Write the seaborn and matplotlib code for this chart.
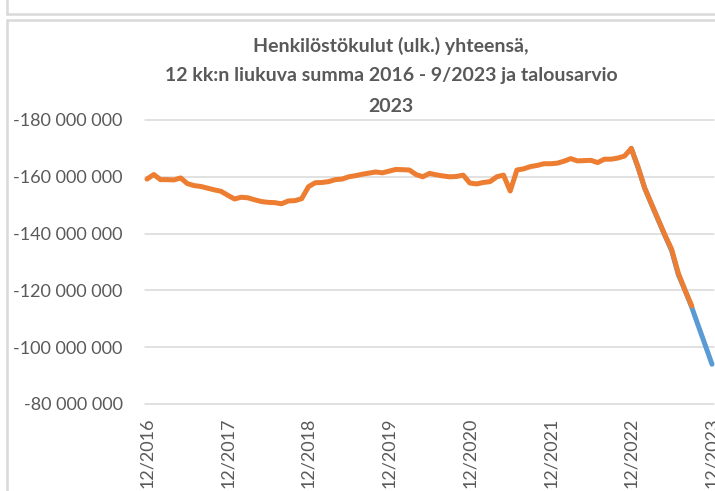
import numpy as np
import pandas as pd
import matplotlib
matplotlib.use('Agg')
import matplotlib.pyplot as plt
import seaborn as sns
from matplotlib.lines import Line2D

# 12 kk liukuva summa, milj. euroa (miinusmerkkinen kulu), kuukaudet 12/2016 - 9/2023
actual_m = [159.2, 160.8, 159.0, 159.0, 158.9, 159.6, 157.6, 156.9, 156.6, 156.0,
            155.4, 154.9, 153.5, 152.2, 152.8, 152.6, 151.9, 151.3, 151.0, 150.9,
            150.5, 151.5, 151.6, 152.3, 156.5, 157.9, 158.0, 158.3, 159.0, 159.2,
            160.0, 160.4, 160.9, 161.3, 161.7, 161.4, 162.0, 162.6, 162.5, 162.4,
            160.8, 160.0, 161.2, 160.7, 160.3, 160.0, 160.1, 160.6, 157.8, 157.5,
            158.0, 158.3, 160.0, 160.6, 155.0, 162.4, 162.8, 163.6, 164.0, 164.6,
            164.6, 164.8, 165.5, 166.4, 165.6, 165.7, 165.8, 165.0, 166.2, 166.2,
            166.6, 167.3, 170.0, 163.5, 156.0, 150.5, 145.0, 139.5, 134.5, 126.0,
            120.0, 114.5]

# talousarvio 2023, 12/2022 - 12/2023
budget_m = [170.0, 163.3, 156.0, 150.3, 144.8, 139.3, 134.0, 125.5, 120.0, 114.0,
            107.3, 100.7, 94.0]
budget_start = 72  # 12/2022

tick_labels = ['12/2016', '12/2017', '12/2018', '12/2019', '12/2020',
               '12/2021', '12/2022', '12/2023']
y_ticks = [-180e6, -160e6, -140e6, -120e6, -100e6, -80e6]

df_actual = pd.DataFrame({'kk': range(len(actual_m)),
                          'eur': [-v * 1e6 for v in actual_m]})
df_budget = pd.DataFrame({'kk': range(budget_start, budget_start + len(budget_m)),
                          'eur': [-v * 1e6 for v in budget_m]})

sns.set_theme(style='white')
plt.rcParams['font.family'] = ['Lato', 'DejaVu Sans']

fig = plt.figure(figsize=(7.15, 4.91), dpi=100)
ax = fig.add_axes([145 / 715, 1 - 404 / 491, 569 / 715, 284 / 491])

sns.lineplot(data=df_budget, x='kk', y='eur', color='#5B9BD5', linewidth=3.6,
             solid_capstyle='round', ax=ax)
sns.lineplot(data=df_actual, x='kk', y='eur', color='#ED7D31', linewidth=3.6,
             solid_capstyle='round', ax=ax)
for ln in ax.get_lines():
    ln.set_clip_on(False)

ax.set_xlim(-0.3, 84.3)
ax.set_ylim(-80e6, -180e6)
ax.set_xticks(range(0, 85, 12))
ax.set_xticklabels(tick_labels, rotation=90)
ax.set_yticks(y_ticks)
ax.set_yticklabels([f'{int(v):,}'.replace(',', ' ') for v in y_ticks])
ax.set_xlabel('')
ax.set_ylabel('')

ax.tick_params(length=0, labelsize=13, colors='#595959')
ax.tick_params(axis='y', pad=16)
ax.tick_params(axis='x', pad=10)
ax.yaxis.grid(True, color='#d9d9d9', linewidth=1.1)
ax.xaxis.grid(False)
for gl in ax.get_ygridlines():
    gl.set_clip_on(False)
ax.set_axisbelow(True)
for s in ax.spines.values():
    s.set_visible(False)

title_lines = ['Henkilöstökulut (ulk.) yhteensä,',
               '12 kk:n liukuva summa 2016 - 9/2023 ja talousarvio',
               '2023']
for i, t in enumerate(title_lines):
    fig.text(391 / 715, 1 - (46 + 30 * i) / 491, t, ha='center', va='center',
             fontsize=14, fontweight='bold', color='#595959')

# reunaviivat (edellinen kaavio ylhäällä + tämän kaavion kehys)
frame = '#d9d9d9'
fig.add_artist(Line2D([7 / 715, 1], [1 - 14 / 491] * 2, color=frame, lw=1.8))
fig.add_artist(Line2D([7 / 715] * 2, [1, 1 - 14 / 491], color=frame, lw=1.8))
fig.add_artist(Line2D([7 / 715, 1], [1 - 19.5 / 491] * 2, color=frame, lw=1.8))
fig.add_artist(Line2D([7 / 715] * 2, [1 - 19.5 / 491, 0], color=frame, lw=1.8))

fig.savefig('out.png', dpi=100)
